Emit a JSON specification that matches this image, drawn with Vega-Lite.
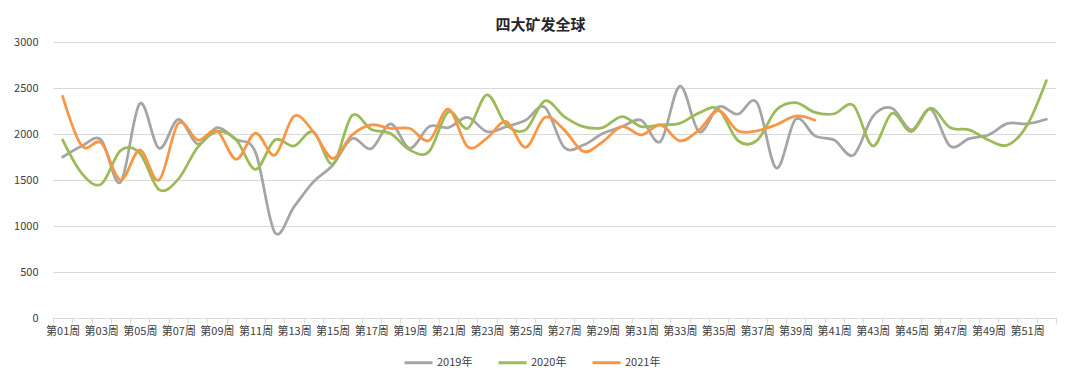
{
  "$schema": "https://vega.github.io/schema/vega-lite/v6.json",
  "autosize": "none",
  "width": 1003,
  "height": 276,
  "padding": {"left": 53, "top": 42, "right": 24, "bottom": 67},
  "background": "white",
  "config": {
    "font": "Noto Sans CJK SC",
    "view": {"stroke": null}
  },
  "title": {
    "text": "四大矿发全球",
    "fontSize": 15,
    "fontWeight": "bold",
    "color": "#262626",
    "anchor": "middle",
    "dx": -14,
    "offset": 3
  },
  "datasets": {
    "rows": [
      {"week": "第01周", "year": "2019年", "value": 1750},
      {"week": "第02周", "year": "2019年", "value": 1870},
      {"week": "第03周", "year": "2019年", "value": 1935},
      {"week": "第04周", "year": "2019年", "value": 1475},
      {"week": "第05周", "year": "2019年", "value": 2330},
      {"week": "第06周", "year": "2019年", "value": 1845},
      {"week": "第07周", "year": "2019年", "value": 2160},
      {"week": "第08周", "year": "2019年", "value": 1890},
      {"week": "第09周", "year": "2019年", "value": 2070},
      {"week": "第10周", "year": "2019年", "value": 1940},
      {"week": "第11周", "year": "2019年", "value": 1800},
      {"week": "第12周", "year": "2019年", "value": 930},
      {"week": "第13周", "year": "2019年", "value": 1210},
      {"week": "第14周", "year": "2019年", "value": 1480},
      {"week": "第15周", "year": "2019年", "value": 1660},
      {"week": "第16周", "year": "2019年", "value": 1950},
      {"week": "第17周", "year": "2019年", "value": 1840},
      {"week": "第18周", "year": "2019年", "value": 2110},
      {"week": "第19周", "year": "2019年", "value": 1845},
      {"week": "第20周", "year": "2019年", "value": 2080},
      {"week": "第21周", "year": "2019年", "value": 2070},
      {"week": "第22周", "year": "2019年", "value": 2180},
      {"week": "第23周", "year": "2019年", "value": 2025},
      {"week": "第24周", "year": "2019年", "value": 2080},
      {"week": "第25周", "year": "2019年", "value": 2150},
      {"week": "第26周", "year": "2019年", "value": 2290},
      {"week": "第27周", "year": "2019年", "value": 1855},
      {"week": "第28周", "year": "2019年", "value": 1880},
      {"week": "第29周", "year": "2019年", "value": 2005},
      {"week": "第30周", "year": "2019年", "value": 2080},
      {"week": "第31周", "year": "2019年", "value": 2150},
      {"week": "第32周", "year": "2019年", "value": 1920},
      {"week": "第33周", "year": "2019年", "value": 2520},
      {"week": "第34周", "year": "2019年", "value": 2025},
      {"week": "第35周", "year": "2019年", "value": 2295},
      {"week": "第36周", "year": "2019年", "value": 2215},
      {"week": "第37周", "year": "2019年", "value": 2340},
      {"week": "第38周", "year": "2019年", "value": 1630},
      {"week": "第39周", "year": "2019年", "value": 2160},
      {"week": "第40周", "year": "2019年", "value": 1980},
      {"week": "第41周", "year": "2019年", "value": 1935},
      {"week": "第42周", "year": "2019年", "value": 1770},
      {"week": "第43周", "year": "2019年", "value": 2190},
      {"week": "第44周", "year": "2019年", "value": 2280},
      {"week": "第45周", "year": "2019年", "value": 2045},
      {"week": "第46周", "year": "2019年", "value": 2270},
      {"week": "第47周", "year": "2019年", "value": 1870},
      {"week": "第48周", "year": "2019年", "value": 1950},
      {"week": "第49周", "year": "2019年", "value": 1990},
      {"week": "第50周", "year": "2019年", "value": 2115},
      {"week": "第51周", "year": "2019年", "value": 2110},
      {"week": "第52周", "year": "2019年", "value": 2160},
      {"week": "第01周", "year": "2020年", "value": 1935},
      {"week": "第02周", "year": "2020年", "value": 1570},
      {"week": "第03周", "year": "2020年", "value": 1455},
      {"week": "第04周", "year": "2020年", "value": 1820},
      {"week": "第05周", "year": "2020年", "value": 1790},
      {"week": "第06周", "year": "2020年", "value": 1395},
      {"week": "第07周", "year": "2020年", "value": 1510},
      {"week": "第08周", "year": "2020年", "value": 1855},
      {"week": "第09周", "year": "2020年", "value": 2025},
      {"week": "第10周", "year": "2020年", "value": 1935},
      {"week": "第11周", "year": "2020年", "value": 1615},
      {"week": "第12周", "year": "2020年", "value": 1935},
      {"week": "第13周", "year": "2020年", "value": 1870},
      {"week": "第14周", "year": "2020年", "value": 2025},
      {"week": "第15周", "year": "2020年", "value": 1675},
      {"week": "第16周", "year": "2020年", "value": 2200},
      {"week": "第17周", "year": "2020年", "value": 2050},
      {"week": "第18周", "year": "2020年", "value": 2005},
      {"week": "第19周", "year": "2020年", "value": 1825},
      {"week": "第20周", "year": "2020年", "value": 1810},
      {"week": "第21周", "year": "2020年", "value": 2240},
      {"week": "第22周", "year": "2020年", "value": 2060},
      {"week": "第23周", "year": "2020年", "value": 2425},
      {"week": "第24周", "year": "2020年", "value": 2100},
      {"week": "第25周", "year": "2020年", "value": 2045},
      {"week": "第26周", "year": "2020年", "value": 2360},
      {"week": "第27周", "year": "2020年", "value": 2190},
      {"week": "第28周", "year": "2020年", "value": 2080},
      {"week": "第29周", "year": "2020年", "value": 2070},
      {"week": "第30周", "year": "2020年", "value": 2190},
      {"week": "第31周", "year": "2020年", "value": 2080},
      {"week": "第32周", "year": "2020年", "value": 2100},
      {"week": "第33周", "year": "2020年", "value": 2115},
      {"week": "第34周", "year": "2020年", "value": 2230},
      {"week": "第35周", "year": "2020年", "value": 2270},
      {"week": "第36周", "year": "2020年", "value": 1930},
      {"week": "第37周", "year": "2020年", "value": 1930},
      {"week": "第38周", "year": "2020年", "value": 2260},
      {"week": "第39周", "year": "2020年", "value": 2340},
      {"week": "第40周", "year": "2020年", "value": 2235},
      {"week": "第41周", "year": "2020年", "value": 2220},
      {"week": "第42周", "year": "2020年", "value": 2310},
      {"week": "第43周", "year": "2020年", "value": 1870},
      {"week": "第44周", "year": "2020年", "value": 2225},
      {"week": "第45周", "year": "2020年", "value": 2025},
      {"week": "第46周", "year": "2020年", "value": 2280},
      {"week": "第47周", "year": "2020年", "value": 2070},
      {"week": "第48周", "year": "2020年", "value": 2045},
      {"week": "第49周", "year": "2020年", "value": 1935},
      {"week": "第50周", "year": "2020年", "value": 1880},
      {"week": "第51周", "year": "2020年", "value": 2095},
      {"week": "第52周", "year": "2020年", "value": 2580},
      {"week": "第01周", "year": "2021年", "value": 2410},
      {"week": "第02周", "year": "2021年", "value": 1870},
      {"week": "第03周", "year": "2021年", "value": 1905},
      {"week": "第04周", "year": "2021年", "value": 1500},
      {"week": "第05周", "year": "2021年", "value": 1825},
      {"week": "第06周", "year": "2021年", "value": 1500},
      {"week": "第07周", "year": "2021年", "value": 2115},
      {"week": "第08周", "year": "2021年", "value": 1935},
      {"week": "第09周", "year": "2021年", "value": 2035},
      {"week": "第10周", "year": "2021年", "value": 1725},
      {"week": "第11周", "year": "2021年", "value": 2010},
      {"week": "第12周", "year": "2021年", "value": 1770},
      {"week": "第13周", "year": "2021年", "value": 2195},
      {"week": "第14周", "year": "2021年", "value": 2025},
      {"week": "第15周", "year": "2021年", "value": 1735},
      {"week": "第16周", "year": "2021年", "value": 1990},
      {"week": "第17周", "year": "2021年", "value": 2100},
      {"week": "第18周", "year": "2021年", "value": 2060},
      {"week": "第19周", "year": "2021年", "value": 2060},
      {"week": "第20周", "year": "2021年", "value": 1930},
      {"week": "第21周", "year": "2021年", "value": 2270},
      {"week": "第22周", "year": "2021年", "value": 1860},
      {"week": "第23周", "year": "2021年", "value": 1955},
      {"week": "第24周", "year": "2021年", "value": 2135},
      {"week": "第25周", "year": "2021年", "value": 1855},
      {"week": "第26周", "year": "2021年", "value": 2180},
      {"week": "第27周", "year": "2021年", "value": 2045},
      {"week": "第28周", "year": "2021年", "value": 1810},
      {"week": "第29周", "year": "2021年", "value": 1915},
      {"week": "第30周", "year": "2021年", "value": 2080},
      {"week": "第31周", "year": "2021年", "value": 1990},
      {"week": "第32周", "year": "2021年", "value": 2100},
      {"week": "第33周", "year": "2021年", "value": 1925},
      {"week": "第34周", "year": "2021年", "value": 2045},
      {"week": "第35周", "year": "2021年", "value": 2255},
      {"week": "第36周", "year": "2021年", "value": 2035},
      {"week": "第37周", "year": "2021年", "value": 2035},
      {"week": "第38周", "year": "2021年", "value": 2100},
      {"week": "第39周", "year": "2021年", "value": 2195},
      {"week": "第40周", "year": "2021年", "value": 2150}
    ]
  },
  "data": {"name": "rows"},
  "mark": {
    "type": "line",
    "interpolate": "cardinal",
    "strokeWidth": 2.75,
    "strokeCap": "round",
    "strokeJoin": "round"
  },
  "encoding": {
    "x": {
      "field": "week",
      "type": "ordinal",
      "scale": {"type": "band", "paddingInner": 0, "paddingOuter": 0},
      "axis": {
        "title": null,
        "labelAngle": 0,
        "labelFontSize": 11,
        "labelColor": "#404040",
        "labelPadding": 2,
        "labelOverlap": false,
        "labelExpr": "toNumber(substring(datum.value, 1, 3)) % 2 == 1 ? datum.value : ''",
        "domainColor": "#D9D9D9",
        "domainWidth": 1,
        "tickColor": "#D9D9D9",
        "tickSize": 5,
        "tickBand": "extent",
        "grid": false
      }
    },
    "y": {
      "field": "value",
      "type": "quantitative",
      "scale": {"domain": [0, 3000], "nice": false, "zero": true},
      "axis": {
        "title": null,
        "values": [0, 500, 1000, 1500, 2000, 2500, 3000],
        "format": "d",
        "labelFontSize": 11,
        "labelColor": "#404040",
        "labelPadding": 15,
        "domain": false,
        "ticks": false,
        "grid": true,
        "gridColor": "#D9D9D9",
        "gridWidth": 1
      }
    },
    "color": {
      "field": "year",
      "type": "nominal",
      "scale": {
        "domain": ["2019年", "2020年", "2021年"],
        "range": ["#A5A5A5", "#9BBB59", "#F79646"]
      },
      "legend": {
        "title": null,
        "orient": "none",
        "direction": "horizontal",
        "legendX": 350,
        "legendY": 305,
        "symbolType": "stroke",
        "symbolSize": 784,
        "symbolStrokeWidth": 3,
        "labelFontSize": 11,
        "labelColor": "#404040",
        "labelOffset": 3,
        "columnPadding": 19
      }
    }
  }
}
